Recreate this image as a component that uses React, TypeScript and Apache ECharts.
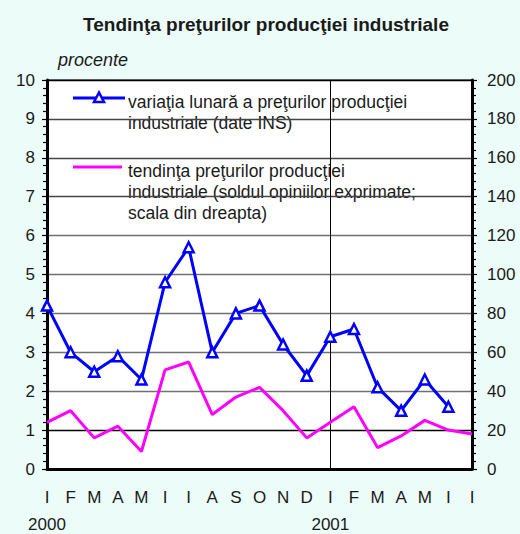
import React, { useEffect, useRef } from "react";
import * as echarts from "echarts";

const months = ["I", "F", "M", "A", "M", "I", "I", "A", "S", "O", "N", "D", "I", "F", "M", "A", "M", "I", "I"];
const years = ["2000", "2001"];
const monthlyVariation = [4.2, 3.0, 2.5, 2.9, 2.3, 4.8, 5.7, 3.0, 4.0, 4.2, 3.2, 2.4, 3.4, 3.6, 2.1, 1.5, 2.3, 1.6, null];
const priceTrend = [24, 30, 16, 22, 9, 51, 55, 28, 37, 42, 30, 16, 24, 32, 11, 17, 25, 20, 18];
const leftTicks = { min: 0, max: 10, interval: 1 };
const rightTicks = { min: 0, max: 200, interval: 20 };
const titleText = "Tendinţa preţurilor producţiei industriale";
const unitText = "procente";
const legendBlue = "variaţia lunară a preţurilor producţiei\nindustriale (date INS)";
const legendMagenta = "tendinţa preţurilor producţiei\nindustriale (soldul opiniilor exprimate;\nscala din dreapta)";

const FONT = "'Liberation Sans', Arial, Helvetica, sans-serif";
const TXT = "#1a1a1a";

export default function App() {
  const ref = useRef<HTMLDivElement>(null);
  useEffect(() => {
    if (!ref.current) return;
    const chart = echarts.init(ref.current, null, { renderer: "svg" });
    const yearData = months.map((_, i) => (i % 12 === 0 ? years[i / 12] : ""));
    chart.setOption({
      animation: false,
      backgroundColor: "#ecfcf8",
      grid: {
        left: 47,
        right: 48,
        top: 80,
        bottom: 65,
        show: true,
        backgroundColor: "#ffffff",
        borderColor: "#000",
        borderWidth: 1,
      },
      xAxis: [
        {
          type: "category",
          data: months,
          boundaryGap: false,
          axisLine: { show: true, lineStyle: { color: "#000", width: 3 } },
          axisTick: { show: false },
          axisLabel: { interval: 0, margin: 20, fontSize: 17, color: TXT, fontFamily: FONT },
          splitLine: {
            show: true,
            interval: (index: number) => index === 12,
            lineStyle: { color: "#000", width: 1 },
          },
        },
        {
          type: "category",
          data: yearData,
          position: "bottom",
          boundaryGap: false,
          axisLine: { show: false },
          axisTick: { show: false },
          axisLabel: { interval: 0, margin: 47, fontSize: 17, color: TXT, fontFamily: FONT },
          splitLine: { show: false },
        },
      ],
      yAxis: [
        {
          type: "value",
          min: leftTicks.min,
          max: leftTicks.max,
          interval: leftTicks.interval,
          position: "left",
          axisLine: { show: true, lineStyle: { color: "#000", width: 3 } },
          axisTick: { show: true, inside: false, length: 5, lineStyle: { color: "#000", width: 1.2 } },
          minorTick: { show: true, splitNumber: 5, length: 4, lineStyle: { color: "#000", width: 1.2 } },
          axisLabel: { margin: 12, fontSize: 17, color: TXT, fontFamily: FONT },
          splitLine: {
            show: true,
            lineStyle: {
              color: ["#000", "#000", "#707070", "#707070", "#707070", "#707070", "#707070", "#444", "#444", "#444", "#000"],
              width: 1.3,
            },
          },
        },
        {
          type: "value",
          min: rightTicks.min,
          max: rightTicks.max,
          interval: rightTicks.interval,
          position: "right",
          axisLine: { show: true, lineStyle: { color: "#000", width: 3 } },
          axisTick: { show: true, inside: false, length: 5, lineStyle: { color: "#000", width: 1.2 } },
          minorTick: { show: true, splitNumber: 5, length: 4, lineStyle: { color: "#000", width: 1.2 } },
          axisLabel: { margin: 15, fontSize: 17, color: TXT, fontFamily: FONT },
          splitLine: { show: false },
        },
      ],
      series: [
        {
          name: "variaţia lunară a preţurilor producţiei industriale (date INS)",
          type: "line",
          data: monthlyVariation,
          yAxisIndex: 0,
          xAxisIndex: 0,
          symbol: "triangle",
          symbolSize: 10,
          showAllSymbol: true,
          lineStyle: { color: "#0000ff", width: 3 },
          itemStyle: { color: "#ffffff", borderColor: "#0000ff", borderWidth: 2.5 },
          z: 4,
        },
        {
          name: "tendinţa preţurilor producţiei industriale (soldul opiniilor exprimate; scala din dreapta)",
          type: "line",
          data: priceTrend,
          yAxisIndex: 1,
          xAxisIndex: 0,
          symbol: "none",
          lineStyle: { color: "#ff00ff", width: 3 },
          z: 3,
        },
      ],
      graphic: [
        {
          type: "text",
          x: 266,
          y: 24,
          style: {
            text: titleText,
            fontSize: 19,
            fontWeight: "bold",
            fontFamily: FONT,
            fill: TXT,
            textAlign: "center",
            textVerticalAlign: "middle",
          },
        },
        {
          type: "text",
          x: 58,
          y: 60,
          style: {
            text: unitText,
            fontSize: 18,
            fontStyle: "italic",
            fontFamily: FONT,
            fill: TXT,
            textAlign: "left",
            textVerticalAlign: "middle",
          },
        },
        {
          type: "group",
          z: 10,
          children: [
            {
              type: "rect",
              shape: { x: 70, y: 83, width: 348, height: 143 },
              style: { fill: "#ffffff" },
            },
            {
              type: "line",
              shape: { x1: 73, y1: 98, x2: 125, y2: 98 },
              style: { stroke: "#0000ff", lineWidth: 3 },
            },
            {
              type: "polygon",
              shape: { points: [[99, 92.5], [94, 102], [104, 102]] },
              style: { fill: "#ffffff", stroke: "#0000ff", lineWidth: 2.5 },
            },
            {
              type: "text",
              x: 128,
              y: 91,
              style: {
                text: legendBlue,
                fontSize: 17.5,
                lineHeight: 21.6,
                fontFamily: FONT,
                fill: TXT,
                textAlign: "left",
                textVerticalAlign: "top",
              },
            },
            {
              type: "line",
              shape: { x1: 73, y1: 167, x2: 122, y2: 167 },
              style: { stroke: "#ff00ff", lineWidth: 3 },
            },
            {
              type: "text",
              x: 128,
              y: 161,
              style: {
                text: legendMagenta,
                fontSize: 17.5,
                lineHeight: 20.8,
                fontFamily: FONT,
                fill: TXT,
                textAlign: "left",
                textVerticalAlign: "top",
              },
            },
          ],
        },
      ],
    });
    return () => chart.dispose();
  }, []);
  return <div ref={ref} style={{ position: "fixed", left: 0, top: 0, width: 520, height: 534 }} />;
}
